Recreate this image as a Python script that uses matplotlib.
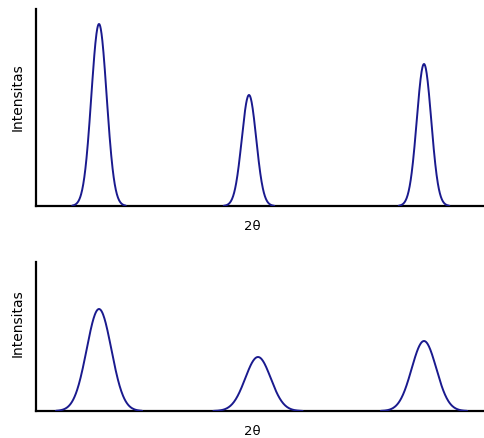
import matplotlib
matplotlib.use("Agg")
import matplotlib.pyplot as plt
import numpy as np

# peak parameters (arbitrary 2-theta units, intensity units)
top_centers = [63, 213, 388]
top_heights = [182, 111, 142]
top_fwhm = [18, 17, 17]

bot_centers = [63, 222, 388]
bot_heights = [102, 54, 70]
bot_fwhm = [29, 30, 29]

x_max = 448
top_ymax = 197
bot_ymax = 149

line_color = "#1a1a8e"

fig = plt.figure(figsize=(4.84, 4.39), dpi=100)
ax1 = fig.add_axes([36/484, 1-207/439, 1-36/484, (207-10)/439])
ax2 = fig.add_axes([36/484, 1-412/439, 1-36/484, (412-263)/439])


def draw_peaks(ax, centers, heights, fwhm, ymax):
    for c, h, w in zip(centers, heights, fwhm):
        s = w / 2.3548
        xs = np.linspace(c - 3.5*s, c + 3.5*s, 200)
        ax.plot(xs, h*np.exp(-0.5*((xs - c)/s)**2), color=line_color, lw=1.4,
                solid_capstyle="round")
    ax.set_xlim(0, x_max)
    ax.set_ylim(0, ymax)
    ax.set_xticks([])
    ax.set_yticks([])
    for side in ["top", "right"]:
        ax.spines[side].set_visible(False)
    for side in ["left", "bottom"]:
        ax.spines[side].set_linewidth(1.6)
        ax.spines[side].set_zorder(1)
    ax.patch.set_alpha(0)


draw_peaks(ax1, top_centers, top_heights, top_fwhm, top_ymax)
draw_peaks(ax2, bot_centers, bot_heights, bot_fwhm, bot_ymax)

fig.text(18/484, 1-97/439, "Intensitas", rotation=90, ha="center", va="center", fontsize=10)
fig.text(252/484, 1-226/439, "2θ", ha="center", va="center", fontsize=9.5)
fig.text(18/484, 1-323/439, "Intensitas", rotation=90, ha="center", va="center", fontsize=10)
fig.text(252/484, 1-432/439, "2θ", ha="center", va="center", fontsize=9.5)

fig.savefig("out.png", dpi=100)
